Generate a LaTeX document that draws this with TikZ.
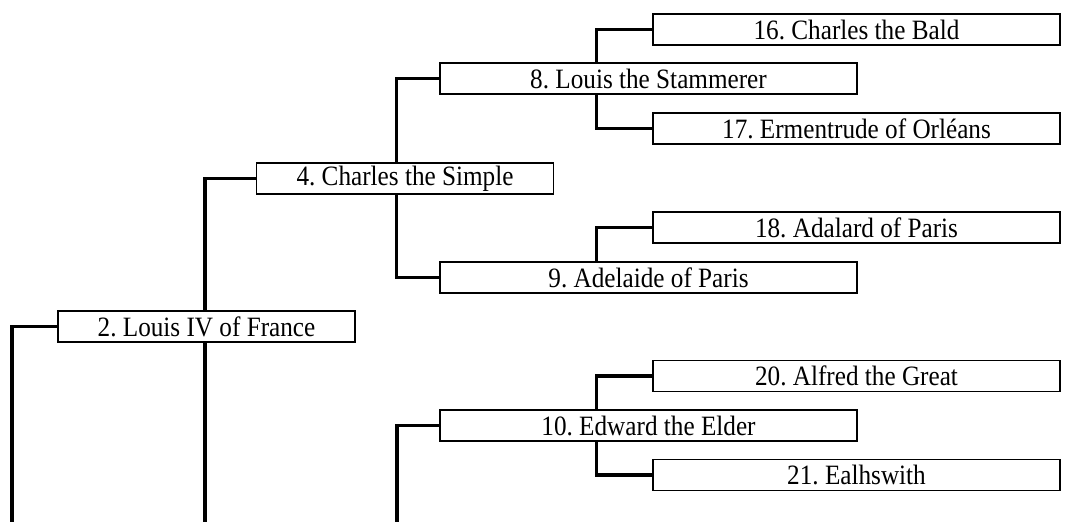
\documentclass[tikz,border=0pt]{standalone}
\usepackage{fontspec}
\setmainfont{Liberation Serif}[FakeStretch=0.9]
\usetikzlibrary{backgrounds}
\frenchspacing

\begin{document}
\begin{tikzpicture}[x=0.75pt, y=-0.75pt,
  box/.style={draw, fill=white, line width=1.1pt, inner sep=0pt,
    minimum height=31*0.75pt, font=\fontsize{21}{24}\selectfont},
  gen1/.style={box, minimum width=297*0.75pt},
  gen2/.style={box, minimum width=417*0.75pt},
  gen3/.style={box, minimum width=407*0.75pt},
  link/.style={line width=2.3pt, line cap=rect}]
\useasboundingbox (0,0) rectangle (1073,521);
% generation 1
\node[gen1] (louis4) at (206.5,326.5) {2. Louis IV of France};
% generation 2
\node[gen1] (charles4) at (405,178.5) {4. Charles the Simple};
% generation 3
\node[gen2] (louis8) at (648.5,78.5) {8. Louis the Stammerer};
\node[gen2] (adelaide9) at (648.5,277.5) {9. Adelaide of Paris};
\node[gen2] (edward10) at (648.5,425.5) {10. Edward the Elder};
% generation 4
\node[gen3] (charles16) at (856.5,29.5) {16. Charles the Bald};
\node[gen3] (ermentrude17) at (856.5,128.5) {17. Ermentrude of Orléans};
\node[gen3] (adalard18) at (856.5,227.5) {18. Adalard of Paris};
\node[gen3] (alfred20) at (856.5,376) {20. Alfred the Great};
\node[gen3] (ealhswith21) at (856.5,475) {21. Ealhswith};
% loose ends at the bottom
\coordinate (end1) at (12,521);
\coordinate (end2) at (205,521);
\coordinate (end3) at (397,521);
\begin{scope}[on background layer]
\draw[link] (charles16.west) -- ++(-56,0) |- (ermentrude17.west);
\draw[link] (adalard18.west) -- ++(-56,0) -- ++(0,34);
\draw[link] (alfred20.west) -- ++(-56,0) |- (ealhswith21.west);
\draw[link] (louis8.west) -- ++(-43,0) |- (adelaide9.west);
\draw[link] (edward10.west) -| (end3);
\draw[link] (charles4.west) -| (end2);
\draw[link] (louis4.west) -| (end1);
\end{scope}
\end{tikzpicture}
\end{document}
